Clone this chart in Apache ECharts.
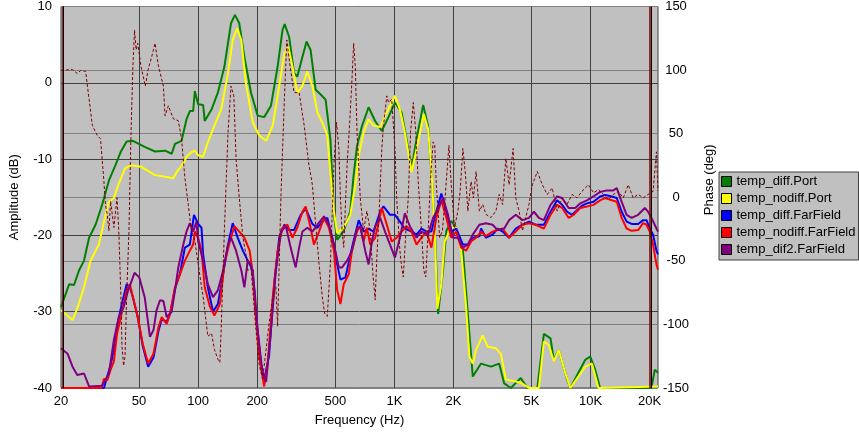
<!DOCTYPE html>
<html>
<head>
<meta charset="utf-8">
<title>Amplitude / Phase</title>
<script src="https://cdn.jsdelivr.net/npm/echarts@6.0.0/dist/echarts.min.js"></script>
<style>
  html, body { margin: 0; padding: 0; background: #fff; }
  #chart { width: 859px; height: 432px; }
</style>
</head>
<body>
<div id="chart"></div>
<script>
// Frequency axis labels and vertical grid lines (Hz)
const freqTicks = [20, 50, 100, 200, 500, 1000, 2000, 5000, 10000, 20000];
const gridFreqs = [50, 100, 200, 500, 1000, 2000, 5000, 10000];
// marker lines at the ends of the range (Hz)
const rangeMarks = [20.2, 20000];
const cursorMarks = [20.5, 20300];

// [frequency Hz, amplitude dB]
const diffPort = [[20,-29.4],[22,-26.4],[23.3,-26.5],[24.7,-24.6],[26.2,-23.3],[27.8,-20.3],[30,-18.6],[32.4,-16],[35.1,-12.8],[37.9,-10.8],[40.4,-9],[43.2,-7.7],[46.5,-7.6],[53.4,-8.4],[60.3,-9],[67.8,-8.9],[73.3,-9.3],[76.2,-8],[82.3,-7.6],[87.2,-4.8],[90.7,-3.7],[94.3,-3.7],[96.2,-1.1],[100,-2.8],[106,-2.9],[108,-5],[117,-3.5],[126,-1.3],[136,2.1],[147,7.8],[154,8.9],[162,7.8],[172,3.4],[186,-1.3],[201,-4.3],[217,-4.5],[235,-3],[254,2.1],[269,6.9],[276,7.7],[291,6],[308,1.3],[320,0.8],[340,3.4],[357,5.4],[374,4.3],[397,-0.9],[420,-1.5],[446,-2.2],[472,-7.4],[492,-17.3],[511,-20.6],[552,-19.4],[596,-16.8],[620,-12.1],[645,-8.3],[683,-5.7],[739,-3.2],[798,-5],[863,-6.3],[933,-4.5],[1007,-2.6],[1089,-3.9],[1154,-7.4],[1223,-11.2],[1297,-7.4],[1402,-2.9],[1486,-5.7],[1544,-11.6],[1605,-18.6],[1670,-30.3],[1770,-24.6],[1839,-19.4],[1949,-18.1],[2066,-19],[2234,-22],[2368,-30.3],[2509,-38.5],[2764,-36.8],[3106,-37.2],[3420,-36.8],[3626,-39.4],[3921,-40],[4405,-38.7],[4763,-40],[5350,-40],[5778,-32.9],[6247,-33.5],[6491,-36.3],[6881,-35],[7587,-38.9],[7885,-40],[9391,-36.3],[9954,-35.9],[10550,-37.6],[11180,-40],[20420,-40],[21220,-37.6],[22050,-38]];

const nodiffPort = [[20,-29.8],[22.9,-31.1],[24.2,-29.6],[26.2,-26.8],[28.3,-23.3],[31.2,-21.2],[33.1,-18.2],[35.1,-15.6],[37.2,-15.1],[39.4,-13.2],[42.4,-11.2],[45.7,-10.8],[51.1,-11],[60.3,-12.1],[67.8,-12.3],[74.8,-12.5],[77.7,-11.7],[84,-10.6],[87.2,-9.7],[92.4,-9.1],[96.2,-8.9],[100,-9.5],[106,-9.7],[112,-7.8],[121,-5.6],[131,-3.5],[142,1.3],[150,5.6],[158,7.1],[166,5.6],[175,0],[190,-5.2],[205,-6.9],[222,-7.6],[240,-5.6],[259,-0.4],[275,3.9],[288,4.7],[302,2.2],[320,-1.3],[340,-0.4],[360,1.5],[382,-0.4],[405,-3.9],[429,-5.2],[455,-6.9],[472,-11.7],[492,-16.9],[511,-19.7],[552,-19],[596,-17.3],[632,-13.4],[658,-9.5],[697,-6.5],[739,-4.8],[783,-5.6],[846,-5.8],[915,-3.9],[1007,-1.7],[1067,-3.5],[1131,-6.5],[1223,-11.7],[1297,-8.7],[1412,-4.1],[1486,-6.1],[1544,-11.2],[1605,-19.5],[1656,-29.6],[1735,-26.4],[1803,-20.8],[1949,-19],[2066,-19],[2189,-22],[2321,-29.4],[2412,-35.9],[2509,-36.8],[2608,-35],[2819,-33.1],[2988,-34.6],[3291,-34.8],[3488,-35.5],[3698,-38.9],[4074,-39.1],[4405,-39.3],[4852,-40],[5451,-40],[5778,-33.9],[6125,-34.4],[6491,-36.5],[6881,-35],[7438,-38.1],[7885,-40],[9391,-37.2],[10150,-36.8],[10960,-40],[22050,-39.8]];

const diffFar = [[20,-40],[33.1,-40],[34.4,-38.5],[35.8,-37],[37.2,-35],[38.6,-32],[40.4,-29.5],[41.7,-28],[43.2,-26.4],[44.9,-26.8],[46.5,-28.1],[49.2,-30.7],[52.2,-34.5],[55.6,-37.2],[59.2,-36],[62.8,-32.5],[65.2,-31],[69.1,-31.3],[71.9,-30.3],[76.2,-27],[80.8,-25],[85.6,-21.6],[90.7,-21.2],[95.2,-17.3],[100,-18.5],[104,-19],[106,-22.5],[112,-26.8],[119,-30],[126,-29],[134,-25.1],[142,-21.2],[150,-18.4],[159,-20.3],[169,-22],[179,-23.3],[190,-24.6],[197,-30.4],[209,-36.8],[217,-38.9],[230,-35.7],[244,-26.4],[259,-20.3],[275,-18.6],[291,-19.3],[308,-19.3],[333,-17.3],[353,-16.5],[382,-18.5],[405,-19],[429,-18.2],[455,-17.7],[492,-21.2],[511,-23.8],[531,-25.8],[563,-25.5],[608,-21.6],[658,-18],[697,-19.5],[739,-19.1],[783,-19.5],[846,-16.9],[880,-16.2],[950,-17.3],[1007,-17.3],[1067,-18.2],[1131,-19.1],[1223,-19.5],[1297,-19.9],[1374,-19.1],[1457,-19.5],[1544,-19.5],[1636,-16.9],[1735,-14.5],[1839,-16.9],[1949,-19.5],[2066,-19.1],[2234,-21.2],[2368,-21.2],[2509,-20.3],[2710,-20.1],[2764,-19.1],[2930,-20.3],[3167,-19.9],[3357,-19.1],[3559,-19.5],[3843,-20.3],[4155,-19.1],[4494,-18.6],[4852,-18.2],[5245,-18.6],[5778,-18.6],[6247,-16.9],[6753,-15.4],[7160,-16],[7587,-16.9],[8041,-17.3],[8523,-16.7],[9035,-16.1],[9577,-15.8],[10340,-15.6],[11180,-14.9],[11860,-14.7],[12820,-14.9],[13590,-15.1],[14400,-16.9],[15260,-18.2],[16180,-18.5],[17470,-18.5],[18520,-18],[19270,-18],[20020,-19.1],[20810,-19.9],[21650,-22],[22050,-22.5]];

const nodiffFar = [[20,-40],[32.2,-40],[33.1,-38.8],[34.4,-39],[35.8,-37.6],[37.2,-36.5],[38.6,-32.9],[40.4,-30.7],[41.7,-29],[43.2,-27.2],[44.9,-26.4],[46.5,-28.1],[49.2,-30.7],[52.2,-34.2],[55.6,-36.8],[59.2,-35.5],[62.8,-32],[65.2,-30.7],[69.1,-31.6],[71.9,-30.3],[76.2,-26.8],[80.8,-25.1],[85.6,-23.3],[90.7,-22],[94.3,-21.2],[96.2,-19.5],[100,-20.3],[104,-22],[108,-26.8],[115,-29.4],[121,-30.5],[129,-29],[136,-23.8],[145,-20.8],[153,-18.8],[162,-19.5],[172,-20.3],[183,-22],[190,-25.1],[197,-30.7],[205,-35.9],[217,-39.8],[226,-36.8],[240,-28.1],[254,-22],[269,-19],[285,-18.6],[302,-20.3],[320,-19],[340,-16.9],[353,-16.2],[374,-19],[389,-21.2],[413,-19.5],[438,-17.7],[464,-19],[492,-22],[511,-27.2],[531,-29],[552,-26.4],[585,-25.1],[608,-22],[645,-19.5],[670,-18.8],[697,-20.8],[724,-19],[753,-21.2],[798,-20.3],[863,-16.4],[915,-18.6],[969,-20.8],[1027,-20.3],[1089,-19.5],[1154,-18.8],[1223,-19.5],[1297,-21.2],[1374,-20.3],[1457,-19.5],[1544,-21.6],[1636,-17.7],[1735,-15.4],[1839,-17.7],[1949,-20.3],[2066,-19.5],[2189,-21.6],[2321,-22],[2460,-20.8],[2608,-20.3],[2764,-19.5],[2930,-20.1],[3167,-19.5],[3357,-19.3],[3559,-19.1],[3843,-20.3],[4155,-19.5],[4494,-18.6],[4852,-18.4],[5245,-18.6],[5778,-19.1],[6247,-17.3],[6753,-16],[7160,-16.4],[7730,-17.7],[8193,-17.3],[8859,-16.4],[9577,-16.2],[10340,-16],[11180,-15.4],[11860,-15.1],[12820,-15.4],[13590,-15.6],[14400,-17.7],[15260,-19.1],[16180,-19.4],[17470,-19.3],[18520,-18.4],[19270,-18.6],[20020,-19.5],[20810,-21.2],[21650,-23.8],[22050,-24.5]];

const dif2Far = [[20,-34.8],[21.6,-35.5],[22.9,-37.2],[24.2,-38.3],[26.2,-38.1],[27.8,-39.8],[32.4,-39.7],[35.1,-38.1],[37.2,-33.7],[39.4,-30.7],[41.7,-29.4],[44,-27.2],[47.4,-24.9],[50.1,-25.5],[53.4,-28.1],[56.8,-33.3],[59.2,-32.4],[61.4,-29.8],[63.9,-28.5],[66.5,-28.6],[69.1,-30.7],[73.3,-30],[76.2,-27.2],[79.2,-24.2],[84,-21.2],[87.2,-19.5],[90.7,-18.4],[94.3,-19.5],[98,-18.2],[100,-20.8],[106,-23.3],[112,-26.4],[119,-28.1],[126,-27.2],[134,-24.6],[142,-21.2],[147,-20.3],[156,-22],[166,-24.6],[172,-26.8],[179,-23.3],[186,-23.8],[194,-27.2],[201,-32.4],[213,-38.1],[222,-39.2],[235,-32.4],[249,-24.6],[264,-19.5],[280,-18.8],[296,-21.6],[314,-24.2],[327,-21.6],[340,-19.5],[360,-19],[382,-19.5],[405,-18.6],[438,-17.5],[464,-18.6],[492,-21.2],[521,-24.2],[541,-24.2],[574,-23.3],[608,-22],[645,-19.1],[670,-18.8],[710,-22],[739,-23.8],[768,-20.8],[798,-18.8],[846,-17.7],[896,-19.5],[950,-21.2],[1007,-22.9],[1067,-20.3],[1131,-17.1],[1199,-18.8],[1297,-20.3],[1374,-19.5],[1486,-19.9],[1575,-17.7],[1670,-16.4],[1770,-15.1],[1876,-17.3],[1988,-20.3],[2107,-20.3],[2234,-21.6],[2368,-21.2],[2509,-19.9],[2710,-18.6],[2930,-18.4],[3167,-18.6],[3357,-19.3],[3626,-19.1],[3843,-18],[4155,-17.3],[4494,-18],[4852,-17.7],[5142,-16.9],[5451,-17.7],[5778,-18],[6247,-16],[6753,-14.9],[7160,-15.1],[7730,-16.4],[8356,-16.4],[8859,-15.8],[9577,-15.4],[10340,-14.9],[11180,-14.3],[12090,-14.1],[13060,-14.1],[13590,-13.8],[14400,-15.6],[15260,-17.3],[16180,-17.7],[17470,-17.3],[18880,-16.4],[19630,-16.9],[20420,-17.7],[21650,-19.1],[22050,-19.5]];

// [frequency Hz, phase deg] (right axis, dashed)
const phase = [[20,99.8],[22.9,100.4],[24.2,97.3],[25.2,99.7],[26.7,99],[27.8,77.1],[28.9,56.4],[30.6,48.6],[31.8,46],[33.1,12.4],[33.7,-5.7],[34.4,-13.5],[35.1,-26.4],[35.8,-3.1],[37.2,-23.8],[38.6,-0.5],[39.4,-26.4],[40.4,-78.2],[40.9,-117],[41.7,-132.5],[42.4,-124.8],[43.2,-78.2],[44.4,-26.4],[45.4,46],[46.5,103],[47.4,131.4],[48.3,116],[49.2,121.1],[51.1,103],[53.8,87.4],[55.6,100.4],[58,110.7],[60.3,121.1],[62.8,103],[66.5,87.4],[67.8,64.1],[70.5,71.9],[74.8,61.6],[79.2,60.2],[82.3,46],[85.6,15],[89,-5.7],[92.4,-26.4],[96.2,-34.2],[100,-52.3],[104,-70.4],[106,-78.2],[112,-109.3],[117,-107],[121,-119.6],[126,-127.3],[129,-129.9],[131,-104],[136,-26.4],[142,51.2],[147,87.4],[152,79.7],[156,30.5],[162,-0.5],[169,-31.6],[175,-44.6],[179,-57.5],[186,-56],[197,-104],[205,-132.5],[213,-142.9],[222,-119.6],[230,-98.9],[240,-78.2],[249,-70.4],[254,-101.5],[264,-0.5],[275,77.1],[283,123.7],[294,103],[308,82.3],[327,82.3],[347,56.4],[367,25.3],[382,9.8],[397,-21.3],[413,-52.3],[429,-78.2],[441,-91.1],[455,-93.7],[472,-52.3],[492,25.3],[507,59],[521,38.3],[531,-0.5],[541,-26.4],[552,-39.4],[563,-5.7],[574,25.3],[592,59],[608,92.6],[620,121.1],[632,103],[645,51.2],[670,-0.5],[697,-26.4],[724,-10.9],[753,-26.4],[777,-60.1],[798,-80.7],[814,-47.1],[840,-5.7],[863,38.3],[880,56.4],[915,79.7],[933,74.5],[969,77.1],[1007,38.3],[1027,-0.5],[1067,-41.9],[1089,-54.9],[1110,-62.7],[1145,-26.4],[1177,-0.5],[1209,51.2],[1248,74.5],[1286,51.2],[1323,12.4],[1374,-26.4],[1412,-57.5],[1445,-62.7],[1486,-26.4],[1526,12.4],[1575,43.5],[1605,41],[1636,9.8],[1701,-31.6],[1756,-26.4],[1803,-5.7],[1854,20.2],[1897,40.8],[1949,9.8],[2025,-23.8],[2107,-10.9],[2164,4.7],[2234,38.3],[2302,18],[2368,-10.9],[2460,12.4],[2527,-0.5],[2608,20.2],[2710,-10.9],[2819,-5.7],[2930,-13.5],[3106,-16],[3291,-10.9],[3420,2.2],[3559,-5.7],[3698,30.5],[3843,9.8],[4027,38.3],[4155,-0.5],[4319,-10.9],[4494,-26.4],[4669,-16],[4852,-5.7],[5047,9.8],[5350,20.2],[5672,9.8],[6011,2.2],[6372,7.3],[6753,-10.9],[7160,-0.5],[7587,-5.7],[8041,2.2],[8523,-0.5],[9035,4.7],[9756,9.8],[10340,3.5],[10960,6],[11620,2.2],[12320,-1.8],[13060,2.2],[13840,4.7],[14670,-0.5],[15550,9.8],[16480,-0.5],[17470,2.2],[18520,-0.5],[19630,2.2],[20810,4.7],[21650,35.7],[22050,5]];

const FONT = '"Liberation Sans", Arial, sans-serif';
const lg = f => Math.log10(f);
const toXY = pts => pts.map(p => [lg(p[0]), p[1]]);
const txt = { color: '#000', fontSize: 13, fontFamily: FONT };

const chart = echarts.init(document.getElementById('chart'));

function curve(name, pts, color) {
    return {
        name: name,
        type: 'line',
        data: toXY(pts),
        showSymbol: false,
        symbol: 'none',
        silent: true,
        clip: true,
        itemStyle: { color: color },
        lineStyle: { color: color, width: 2 },
        emphasis: { disabled: true }
    };
}

const series = [
    curve('temp_diff.Port', diffPort, '#008000'),
    curve('temp_nodiff.Port', nodiffPort, '#FFFF00'),
    curve('temp_diff.FarField', diffFar, '#0000FF'),
    curve('temp_nodiff.FarField', nodiffFar, '#FF0000'),
    curve('temp_dif2.FarField', dif2Far, '#800080'),
    {
        name: 'phase',
        type: 'line',
        yAxisIndex: 1,
        data: toXY(phase),
        showSymbol: false,
        symbol: 'none',
        silent: true,
        lineStyle: { color: '#800000', width: 1, type: [3, 2] },
        emphasis: { disabled: true },
        markLine: {
            silent: true,
            z: 6,
            symbol: ['none', 'none'],
            label: { show: false },
            animation: false,
            data: rangeMarks.map(f => ({ xAxis: lg(f), lineStyle: { color: '#800000', width: 1.5, type: 'solid' } }))
                .concat(cursorMarks.map(f => ({ xAxis: lg(f), lineStyle: { color: '#000', width: 1, type: 'solid' } })))
        }
    }
];

// vertical frequency grid lines, under the curves
series[0].markLine = {
    silent: true,
    z: 1,
    symbol: ['none', 'none'],
    label: { show: false },
    animation: false,
    lineStyle: { color: '#404040', width: 1, type: 'solid' },
    data: gridFreqs.map(f => ({ xAxis: lg(f) }))
};

var option = {
    animation: false,
    grid: {
        left: 57, right: 201, top: 6, bottom: 40,
        show: true,
        backgroundColor: '#C0C0C0',
        borderColor: '#404040',
        borderWidth: 1
    },
    legend: {
        data: ['temp_diff.Port', 'temp_nodiff.Port', 'temp_diff.FarField', 'temp_nodiff.FarField', 'temp_dif2.FarField'],
        orient: 'vertical',
        left: 719,
        top: 172,
        padding: [3, 3, 4, 2],
        itemWidth: 10,
        itemHeight: 10,
        itemGap: 4,
        icon: 'rect',
        selectedMode: false,
        backgroundColor: '#C0C0C0',
        borderColor: '#404040',
        borderWidth: 1,
        itemStyle: { borderColor: '#000', borderWidth: 1 },
        textStyle: txt
    },
    xAxis: {
        type: 'value',
        min: lg(20),
        max: lg(22050),
        name: 'Frequency (Hz)',
        nameLocation: 'middle',
        nameGap: 26,
        nameTextStyle: txt,
        axisLine: { show: false },
        axisTick: { show: false },
        splitLine: { show: false },
        axisLabel: Object.assign({
            margin: 7,
            customValues: freqTicks.map(lg),
            formatter: function (v) {
                const f = Math.round(Math.pow(10, v));
                return f >= 1000 ? (f / 1000) + 'K' : String(f);
            }
        }, txt)
    },
    yAxis: [
        {
            type: 'value',
            min: -40,
            max: 10,
            interval: 10,
            name: 'Amplitude (dB)',
            nameLocation: 'middle',
            nameGap: 40,
            nameTextStyle: txt,
            axisLine: { show: false },
            axisTick: { show: false },
            axisLabel: Object.assign({ margin: 9 }, txt),
            splitLine: { lineStyle: { color: '#404040', width: 1 } }
        },
        {
            type: 'value',
            position: 'right',
            min: -150,
            max: 150,
            interval: 50,
            name: 'Phase (deg)',
            nameLocation: 'middle',
            nameGap: 45,
            nameTextStyle: Object.assign({ padding: [0, 0, 0, 35] }, txt),
            axisLine: { show: false },
            axisTick: { show: false },
            axisLabel: Object.assign({ margin: 18, align: 'center' }, txt),
            splitLine: { lineStyle: { color: '#808080', width: 1 } }
        }
    ],
    series: series
};

chart.setOption(option);
</script>
</body>
</html>
